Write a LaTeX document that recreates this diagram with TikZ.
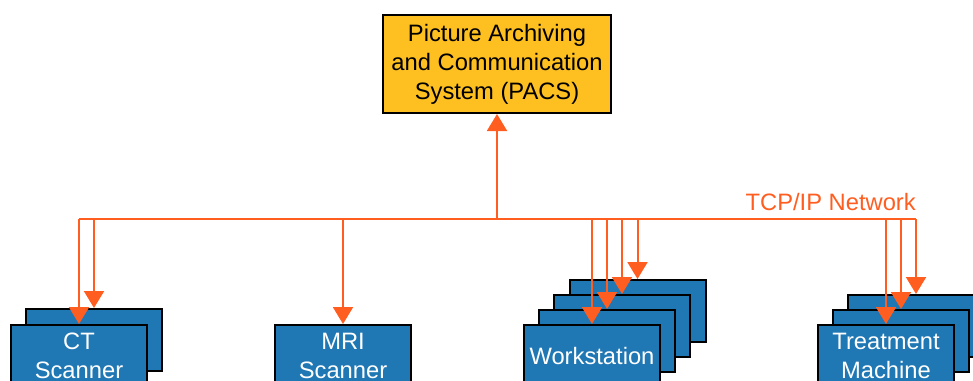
\documentclass[tikz,border=0pt]{standalone}
\usepackage{fontspec}
\setmainfont{Liberation Sans}
\definecolor{PacsGold}{RGB}{253, 192, 32}
\definecolor{UnitBlue}{RGB}{31, 119, 180}
\definecolor{NetOrange}{RGB}{255, 94, 32}
\usetikzlibrary{arrows.meta}
\tikzset{
  boxfont/.style={font=\fontsize{17.8}{21.75}\selectfont},
  unit/.style={draw=black, line width=1.5pt, fill=UnitBlue, text=white, boxfont,
    minimum width=102pt, minimum height=46.5pt, align=center, inner sep=0pt},
  net/.style={NetOrange, line width=1.5pt},
}

\begin{document}
\begin{tikzpicture}[x=0.75pt, y=-0.75pt, >={Triangle[length=12.75pt, width=15pt]}]
        \clip (0,0) rectangle (973,380);
        % archive
        \node[draw=black, line width=1.5pt, fill=PacsGold, boxfont, align=center,
          minimum width=171pt, minimum height=73.5pt, inner sep=0pt] (pacs) at (497,64)
          {Picture Archiving\\and Communication\\System (PACS)};
        % stacked copies behind
        \node[unit] (ct2) at (94,340) {};
        \foreach \i/\x/\y in {4/637.5/311, 3/622/326, 2/607/341}
            \node[unit] (ws\i) at (\x,\y) {};
        \foreach \i/\x/\y in {3/916/326, 2/901/341}
            \node[unit] (tm\i) at (\x,\y) {};
        % front units
        \node[unit] (ct1) at (79,356) {CT\\Scanner};
        \node[unit] (mri) at (343,356) {MRI\\Scanner};
        \node[unit] (ws1) at (592,356) {Workstation};
        \node[unit] (tm1) at (886,356) {Treatment\\Machine};
        % network bus
        \coordinate (bus) at (497,219);
        \draw[net] (ct1.north |- bus) -- (tm3.north |- bus);
        \draw[net, ->] (bus) -- (pacs.south);
        \foreach \n in {ct1, ct2, mri, ws1, ws2, ws3, ws4, tm1, tm2, tm3}
            \draw[net, ->] (\n.north |- bus) -- (\n.north);
        \node[NetOrange, boxfont, anchor=base east, inner sep=0pt] (tcp)
          at ([yshift=6.75pt]tm3.north |- bus) {TCP/IP Network};
\end{tikzpicture}
\end{document}
